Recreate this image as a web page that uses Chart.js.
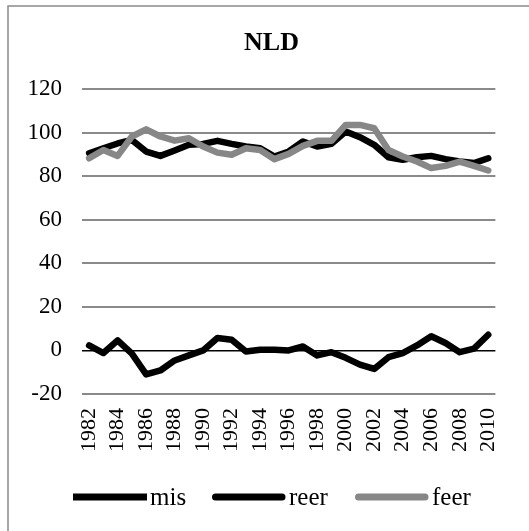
<!DOCTYPE html>
<html>
<head>
<meta charset="utf-8">
<script src="https://cdn.jsdelivr.net/npm/chart.js@4/dist/chart.umd.min.js"></script>
<style>
html,body{margin:0;padding:0;background:#fff;}
#wrap{position:relative;width:529px;height:531px;}
</style>
</head>
<body>
<div id="wrap"><canvas id="c" width="529" height="531"></canvas></div>
<script>
const chartTitle = "NLD";
const years = ["1982","1983","1984","1985","1986","1987","1988","1989","1990","1991","1992","1993","1994","1995","1996","1997","1998","1999","2000","2001","2002","2003","2004","2005","2006","2007","2008","2009","2010"];
const mis  = [2.3,-1.2,4.6,-1.5,-11,-9.2,-4.6,-2.3,0,5.7,4.9,-0.5,0.3,0.3,0,1.8,-2.3,-0.8,-3.4,-6.5,-8.5,-3.1,-1.2,2.3,6.5,3.4,-0.8,0.8,7.2];
const reer = [90.5,92.8,95,96.6,91.3,89.3,91.8,94.4,94.8,96.2,94.8,93.6,92.8,89,91.3,95.9,93.6,94.8,100.5,97.9,94.4,88.7,87.5,88.7,89.3,87.8,86.7,86,88.2];
const feer = [88.2,92,89.3,98.2,101.5,98.2,96.3,97.4,93.6,90.8,89.8,92.8,92,87.8,90.2,93.9,96.2,96.2,103.5,103.5,102,92,89,86.7,83.7,84.7,86.7,84.7,82.6];
const yTicks = [-20,0,20,40,60,80,100,120];

const FONT = "'Liberation Serif', 'Times New Roman', serif";

const decor = {
  id: 'decor',
  beforeDraw(chart) {
    const ctx = chart.ctx;
    ctx.save();
    ctx.strokeStyle = '#8a8a8a';
    ctx.lineWidth = 1.5;
    ctx.beginPath();
    ctx.moveTo(8, 540);
    ctx.lineTo(8, 6);
    ctx.lineTo(540, 6);
    ctx.stroke();
    ctx.restore();
  },
  afterDraw(chart) {
    const ctx = chart.ctx;
    ctx.save();
    ctx.fillStyle = '#000';
    ctx.font = "bold 26px " + FONT;
    ctx.textAlign = 'center';
    ctx.textBaseline = 'middle';
    ctx.fillText(chartTitle, 271.5, 43);
    // legend
    ctx.font = "25px " + FONT;
    ctx.textAlign = 'left';
    const boxX = [73, 212, 355];
    const y = 497;
    chart.data.datasets.forEach((ds, i) => {
      const x = boxX[i];
      ctx.strokeStyle = ds.borderColor;
      ctx.lineWidth = 7;
      ctx.lineCap = ds.legendCap;
      ctx.beginPath();
      if (ds.legendCap === 'round') {
        ctx.moveTo(x + 3.5, y); ctx.lineTo(x + 70, y);
      } else {
        ctx.moveTo(x, y); ctx.lineTo(x + 74, y);
      }
      ctx.stroke();
      ctx.fillText(ds.label, x + 77, y + 1);
    });
    ctx.restore();
  }
};

new Chart(document.getElementById('c'), {
  type: 'line',
  data: {
    labels: years,
    datasets: [
      { label: 'mis', data: mis, borderColor: '#000000', backgroundColor: '#000000', borderWidth: 6.5, order: 2, legendCap: 'butt' },
      { label: 'reer', data: reer, borderColor: '#000000', backgroundColor: '#000000', borderWidth: 6.5, order: 1, legendCap: 'round' },
      { label: 'feer', data: feer, borderColor: '#878787', backgroundColor: '#878787', borderWidth: 6.5, order: 0, legendCap: 'round' }
    ]
  },
  options: {
    responsive: false,
    animation: false,
    devicePixelRatio: 1,
    elements: {
      point: { radius: 0, hoverRadius: 0 },
      line: { tension: 0, borderJoinStyle: 'round', borderCapStyle: 'round' }
    },
    layout: { padding: { top: 89, left: 0, right: 21, bottom: 57 } },
    plugins: {
      legend: { display: false },
      title: { display: false },
      tooltip: { enabled: false }
    },
    scales: {
      y: {
        min: -20, max: 120,
        afterBuildTicks(scale) { scale.ticks = yTicks.map(v => ({ value: v })); },
        afterFit(scale) { scale.width = 82; },
        border: { display: false },
        grid: {
          drawTicks: false,
          color: ctx => ctx.tick && ctx.tick.value === 0 ? '#000000' : '#8a8a8a',
          lineWidth: ctx => ctx.tick && ctx.tick.value === 0 ? 1.5 : 2
        },
        ticks: { color: '#000', padding: 20, font: { family: FONT, size: 23 } }
      },
      x: {
        offset: true,
        afterFit(scale) { scale.height = 80; },
        border: { display: false },
        grid: { display: false, drawTicks: false },
        ticks: {
          autoSkip: false,
          maxRotation: 90, minRotation: 90,
          padding: 14,
          color: '#000',
          font: { family: FONT, size: 22 },
          callback: function(v, i) { return i % 2 === 0 ? years[i] : ''; }
        }
      }
    }
  },
  plugins: [decor]
});
</script>
</body>
</html>
